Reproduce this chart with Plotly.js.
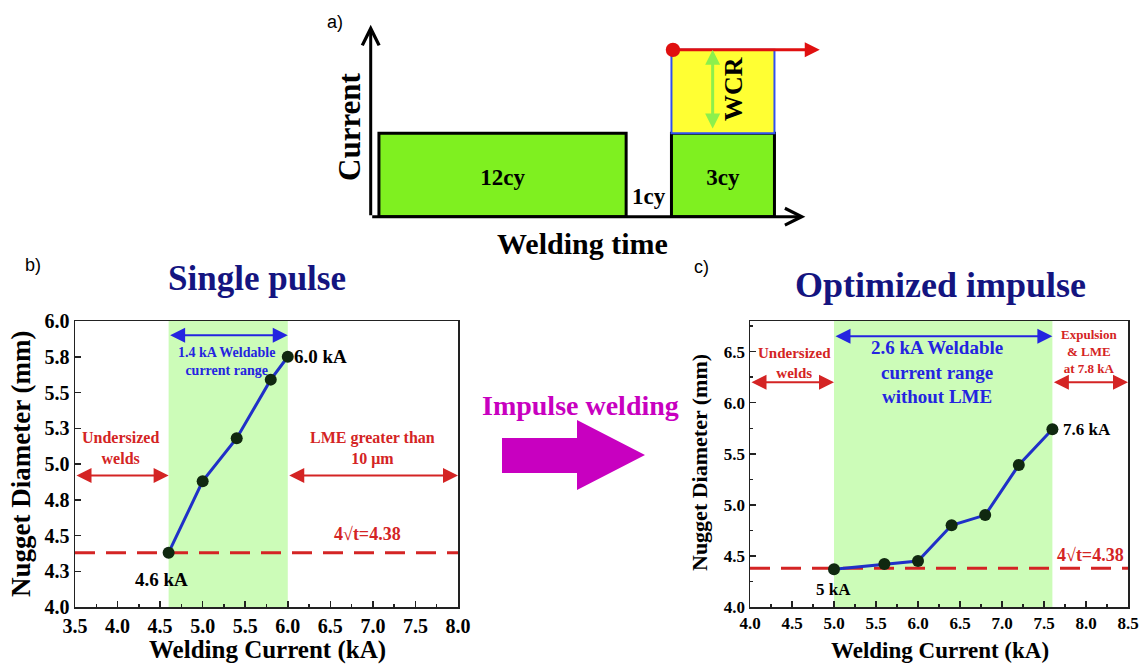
<!DOCTYPE html>
<html>
<head>
<meta charset="utf-8">
<script src="https://cdn.plot.ly/plotly-3.0.1.min.js"></script>
<style>
  html, body { margin: 0; padding: 0; background: #ffffff; }
  #chart { width: 1146px; height: 664px; }
</style>
</head>
<body>
<div id="chart"></div>
<script>
// ---- Nugget diameter vs welding current ----
const spCurrent = [4.6, 5.0, 5.4, 5.8, 6.0];          // single pulse (kA)
const spDiameter = [4.38, 4.88, 5.18, 5.59, 5.75];    // mm
const oiCurrent = [5.0, 5.6, 6.0, 6.4, 6.8, 7.2, 7.6]; // optimized impulse (kA)
const oiDiameter = [4.37, 4.42, 4.45, 4.80, 4.90, 5.39, 5.74];
const minNugget = 4.38;                               // 4√t criterion (mm)

const spYTickVals = [4.0, 4.25, 4.5, 4.75, 5.0, 5.25, 5.5, 5.75, 6.0];
const spYTickText = ['4.0', '4.3', '4.5', '4.8', '5.0', '5.3', '5.5', '5.8', '6.0'];

// ---- Pulse schedule sketch (schematic units) ----
const pulseLabels = ['12cy', '3cy'];
const pulseStart = [0.4, 14.6];
const pulseEnd = [12.4, 19.6];
const gapLabel = '1cy';
const weldLevel = 1;
const wcrTop = 2;

const W = 1146, H = 664;
const px = v => v / W;
const py = v => 1 - v / H;

const SERIF = 'Liberation Serif, Times New Roman, serif';
const SANS = 'Liberation Sans, Arial, sans-serif';
const RED = '#d42424';
const BLUE = '#2424e0';
const NAVY = '#141480';
const MAGENTA = '#c800c0';
const BAND = '#ccfcb8';

function bold(size, color) {
  return { family: SERIF, size: size, color: color || '#000', weight: 'bold' };
}

const traces = [
  {
    x: spCurrent, y: spDiameter, xaxis: 'x', yaxis: 'y',
    mode: 'lines+markers', type: 'scatter',
    line: { color: '#2030c8', width: 3 },
    marker: { color: '#102810', size: 12 },
    hoverinfo: 'x+y'
  },
  {
    x: oiCurrent, y: oiDiameter, xaxis: 'x2', yaxis: 'y2',
    mode: 'lines+markers', type: 'scatter',
    line: { color: '#2030c8', width: 3 },
    marker: { color: '#102810', size: 12 },
    hoverinfo: 'x+y'
  },
  {
    // labels inside the pulse blocks
    x: pulseStart.map((s, i) => (s + pulseEnd[i]) / 2),
    y: pulseLabels.map(() => weldLevel * 0.45),
    text: pulseLabels, xaxis: 'x3', yaxis: 'y3',
    mode: 'text', type: 'scatter',
    textfont: bold(23), hoverinfo: 'skip'
  }
];

const shapes = [];
// weldable-range bands
shapes.push({ type: 'rect', xref: 'x', yref: 'y domain', x0: spCurrent[0], x1: spCurrent[spCurrent.length - 1],
  y0: 0, y1: 1, fillcolor: BAND, line: { width: 0 }, layer: 'below' });
shapes.push({ type: 'rect', xref: 'x2', yref: 'y2 domain', x0: oiCurrent[0], x1: oiCurrent[oiCurrent.length - 1],
  y0: 0, y1: 1, fillcolor: BAND, line: { width: 0 }, layer: 'below' });
// minimum nugget size lines
['', '2'].forEach(k => {
  shapes.push({ type: 'line', xref: 'x' + k + ' domain', yref: 'y' + k, x0: 0, x1: 1,
    y0: minNugget, y1: minNugget, line: { color: RED, width: 3, dash: '20px,11px' }, layer: 'below' });
});
// pulse blocks
pulseStart.forEach((s, i) => {
  shapes.push({ type: 'rect', xref: 'x3', yref: 'y3', x0: s, x1: pulseEnd[i], y0: 0, y1: weldLevel,
    fillcolor: '#7ff020', line: { color: '#000', width: 3 }, layer: 'below' });
});
// welding current range block on the second pulse
shapes.push({ type: 'rect', xref: 'x3', yref: 'y3', x0: pulseStart[1], x1: pulseEnd[1], y0: weldLevel, y1: wcrTop,
  fillcolor: '#ffff33', line: { color: '#3050f0', width: 2 }, layer: 'below' });
// big "impulse welding" arrow
shapes.push({ type: 'path', xref: 'paper', yref: 'paper',
  path: 'M' + px(502) + ',' + py(438) + ' L' + px(577) + ',' + py(438) + ' L' + px(577) + ',' + py(420) +
        ' L' + px(645) + ',' + py(455) + ' L' + px(577) + ',' + py(490) + ' L' + px(577) + ',' + py(473) +
        ' L' + px(502) + ',' + py(473) + ' Z',
  fillcolor: MAGENTA, line: { width: 0 } });

const ann = [];
function arrow(xr, yr, x0, y0, x1, y1, color, opts) {
  ann.push(Object.assign({
    xref: xr, yref: yr, axref: xr, ayref: yr,
    x: x1, y: y1, ax: x0, ay: y0, text: '', showarrow: true,
    arrowcolor: color, arrowwidth: 2, arrowhead: 2, arrowsize: 1.5,
    arrowside: 'end+start', startarrowhead: 2, startarrowsize: 1.5
  }, opts || {}));
}
function label(xr, yr, x, y, text, font, opts) {
  ann.push(Object.assign({ xref: xr, yref: yr, x: x, y: y, text: text, font: font,
    showarrow: false, xanchor: 'center', yanchor: 'middle' }, opts || {}));
}

// panel b
arrow('x', 'y', spCurrent[0], 5.9, spCurrent[spCurrent.length - 1], 5.9, BLUE);
arrow('x', 'y', 3.5, 4.92, spCurrent[0], 4.92, RED);
arrow('x', 'y', spCurrent[spCurrent.length - 1], 4.92, 8.0, 4.92, RED);
label('x', 'y', 5.28, 5.72, '1.4 kA Weldable<br>current range', bold(14, BLUE));
label('x', 'y', spCurrent[spCurrent.length - 1], spDiameter[spDiameter.length - 1], '6.0 kA', bold(19),
  { xanchor: 'left', xshift: 4 });
label('x', 'y', 4.52, 4.19, '4.6 kA', bold(19));
label('x', 'y', 4.04, 5.11, 'Undersized<br>welds', bold(16, RED));
label('x', 'y', 7.0, 5.11, 'LME greater than<br>10 μm', bold(16, RED));
label('x', 'y', 6.94, 4.51, '4√t=4.38', bold(18, RED));

// panel c
arrow('x2', 'y2', oiCurrent[0], 6.65, oiCurrent[oiCurrent.length - 1], 6.65, BLUE);
arrow('x2', 'y2', 4.0, 6.2, oiCurrent[0], 6.2, RED);
arrow('x2', 'y2', oiCurrent[oiCurrent.length - 1], 6.2, 8.5, 6.2, RED);
label('x2', 'y2', 4.535, 6.39, 'Undersized<br>welds', bold(15, RED));
label('x2', 'y2', 6.23, 6.30, '2.6 kA Weldable<br>current range<br>without LME', bold(19, BLUE));
label('x2', 'y2', 8.03, 6.50, 'Expulsion<br>&amp; LME<br>at 7.8 kA', bold(13, RED));
label('x2', 'y2', oiCurrent[oiCurrent.length - 1], oiDiameter[oiDiameter.length - 1], '7.6 kA', bold(17),
  { xanchor: 'left', xshift: 9 });
label('x2', 'y2', 4.99, 4.17, '5 kA', bold(17));
label('x2', 'y2', 8.05, 4.51, '4√t=4.38', bold(18, RED));

// panel a: axes arrows, WCR marks
arrow('x3', 'y3', 0, 0, 21.1, 0, '#000', { arrowside: 'end', arrowhead: 5, arrowsize: 1.1, arrowwidth: 3 });
arrow('x3', 'y3', 0, 0, 0, 2.3, '#000', { arrowside: 'end', arrowhead: 5, arrowsize: 1.1, arrowwidth: 3 });
arrow('x3', 'y3', pulseStart[1], wcrTop, 21.8, wcrTop, '#e01010',
  { arrowhead: 2, arrowsize: 1.0, arrowwidth: 3, startarrowhead: 6, startarrowsize: 1.2 });
arrow('x3', 'y3', 16.6, weldLevel + 0.04, 16.6, wcrTop, '#8cf04c',
  { arrowhead: 2, arrowsize: 1.0, arrowwidth: 3, startarrowsize: 1.0 });
label('x3', 'y3', (pulseEnd[0] + pulseStart[1]) / 2, 0.245, gapLabel, bold(23));
label('x3', 'y3', 17.59, 1.53, 'WCR', bold(26), { textangle: -90 });
label('paper', 'paper', px(350), py(127), 'Current', bold(31), { textangle: -90 });
label('paper', 'paper', px(582), py(243), 'Welding time', bold(30));

// titles, panel letters, axis titles
label('paper', 'paper', px(257), py(278), 'Single pulse', bold(35, NAVY));
label('paper', 'paper', px(940), py(285), 'Optimized impulse', bold(36, NAVY));
label('paper', 'paper', px(580), py(405), 'Impulse welding', bold(28, MAGENTA));
label('paper', 'paper', px(335), py(22), 'a)', { family: SANS, size: 18, color: '#000' });
label('paper', 'paper', px(33), py(265), 'b)', { family: SANS, size: 18, color: '#000' });
label('paper', 'paper', px(701), py(267), 'c)', { family: SANS, size: 18, color: '#000' });
label('paper', 'paper', px(267), py(650), 'Welding Current (kA)', bold(25));
label('paper', 'paper', px(21), py(464), 'Nugget Diameter (mm)', bold(27), { textangle: -90 });
label('paper', 'paper', px(940), py(650), 'Welding Current (kA)', bold(23));
label('paper', 'paper', px(699), py(462), 'Nugget Diameter (mm)', bold(22), { textangle: -90 });

function axisBase(size) {
  return {
    showline: true, mirror: true, linecolor: '#222', linewidth: 1.5,
    showgrid: false, zeroline: false,
    ticks: 'inside', ticklen: 6, tickwidth: 1.5, tickcolor: '#222',
    tickfont: bold(size), fixedrange: true
  };
}

const yDom = [py(607), py(321)];
const layout = {
  width: W, height: H,
  margin: { l: 0, r: 0, t: 0, b: 0 },
  paper_bgcolor: '#ffffff', plot_bgcolor: '#ffffff',
  showlegend: false,
  xaxis: Object.assign(axisBase(20), {
    domain: [px(75), px(458)], anchor: 'y', range: [3.5, 8.0], tick0: 3.5, dtick: 0.5, tickformat: '.1f',
    minor: { dtick: 0.25, ticks: 'inside', ticklen: 3, tickcolor: '#222' }
  }),
  yaxis: Object.assign(axisBase(20), {
    domain: yDom, anchor: 'x', range: [4.0, 6.0],
    tickmode: 'array', tickvals: spYTickVals, ticktext: spYTickText
  }),
  xaxis2: Object.assign(axisBase(17), {
    domain: [px(750), px(1128)], anchor: 'y2', range: [4.0, 8.5], tick0: 4.0, dtick: 0.5, tickformat: '.1f',
    minor: { dtick: 0.25, ticks: 'inside', ticklen: 3, tickcolor: '#222' }
  }),
  yaxis2: Object.assign(axisBase(17), {
    domain: yDom, anchor: 'x2', range: [4.0, 6.8], tick0: 4.0, dtick: 0.5, tickformat: '.1f',
    minor: { dtick: 0.25, ticks: 'inside', ticklen: 3, tickcolor: '#222' }
  }),
  xaxis3: { domain: [px(370.7), px(823.9)], anchor: 'y3', range: [0, 22], visible: false, fixedrange: true },
  yaxis3: { domain: [py(216.7), py(16.5)], anchor: 'x3', range: [0, 2.4], visible: false, fixedrange: true },
  shapes: shapes,
  annotations: ann
};

Plotly.newPlot('chart', traces, layout, { displayModeBar: false, staticPlot: true });
</script>
</body>
</html>
